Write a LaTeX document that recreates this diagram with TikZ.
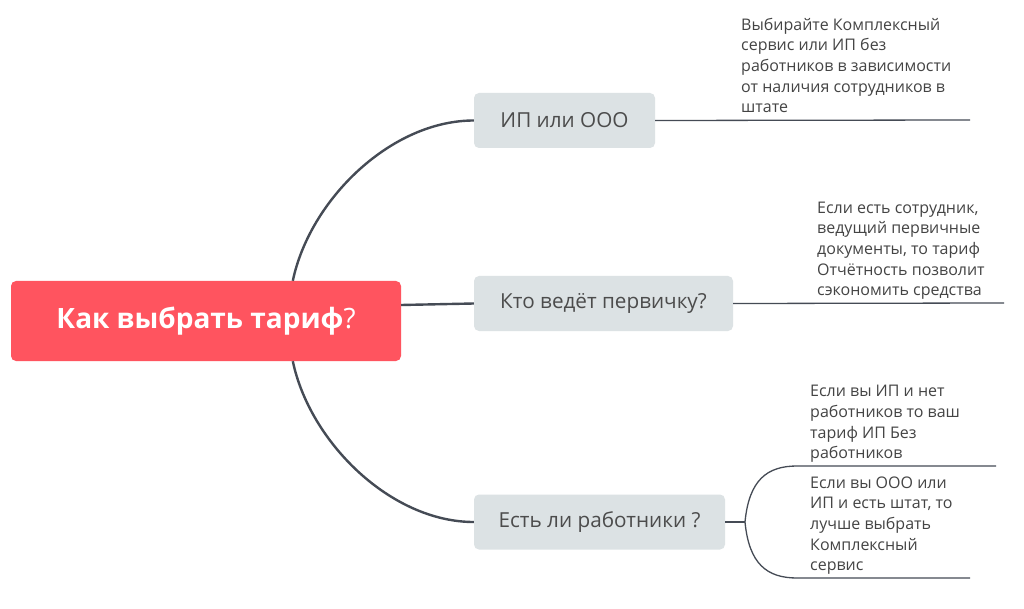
\documentclass[tikz,border=0pt]{standalone}
\usepackage{fontspec}
\setmainfont{Open Sans}
\usetikzlibrary{calc}
\definecolor{mainred}{HTML}{FF545F}
\definecolor{boxgray}{HTML}{DCE2E4}
\definecolor{linegray}{HTML}{454B55}
\definecolor{boxtext}{HTML}{4C4C4C}
\definecolor{notetext}{HTML}{444444}
\tikzset{
  rootbox/.style={fill=mainred, rounded corners=5pt, minimum width=390pt, minimum height=80pt, inner sep=0pt, text=white, font=\fontsize{28}{34}\selectfont},
  topicbox/.style={fill=boxgray, rounded corners=5pt, minimum height=55pt, inner sep=0pt, text=boxtext, font=\fontsize{20.7}{24}\selectfont},
  note/.style={anchor=south west, inner sep=0pt, align=left, text=notetext, font=\fontsize{16}{20.6}\selectfont},
  trunk/.style={draw=linegray, line width=2.4pt},
  twig/.style={draw=linegray, line width=1.3pt},
}
\begin{document}
\begin{tikzpicture}[x=1pt, y=-1pt]
\useasboundingbox[fill=white] (0,0) rectangle (1024,609);
% root
\node[rootbox] (main) at (206,321) {\textbf{Как выбрать тариф}?};
% topics
\node[topicbox, minimum width=181pt] (n1) at (564.5,120.5) {ИП или ООО};
\node[topicbox, minimum width=259pt] (n2) at (603.5,303.5) {Кто ведёт первичку?};
\node[topicbox, minimum width=251pt] (n3) at (599.5,522) {Есть ли работники ?};
% line ends
\coordinate (e1) at (970,120);
\coordinate (e2) at (1004,303);
\coordinate (j3) at (745,522);
\coordinate (b3a) at (797,466);
\coordinate (e3a) at (996,466);
\coordinate (b3b) at (797,578);
\coordinate (e3b) at (970,578);
% connectors from root
\draw[trunk] ([xshift=282pt]main.north west) .. controls +(17,-81) and +(-83,0) .. (n1.west);
\draw[trunk] ([xshift=282pt]main.south west) .. controls +(17,81) and +(-83,0) .. (n3.west);
\draw[trunk] ([yshift=16pt]main.east) -- (n2.west);
% right lines
\draw[twig] (n1.east) -- (e1);
\draw[twig] (n2.east) -- (e2);
\draw[twig] (n3.east) -- (j3);
\draw[twig] (j3) .. controls +(4,-42) and +(-30,0) .. (b3a) -- (e3a);
\draw[twig] (j3) .. controls +(4,42) and +(-30,0) .. (b3b) -- (e3b);
% notes
\node[note] (t1) at (741,119) {Выбирайте Комплексный\\сервис или ИП без\\работников в зависимости\\от наличия сотрудников в\\штате\strut};
\node[note] (t2) at (817,302) {Если есть сотрудник,\\ведущий первичные\\документы, то тариф\\Отчётность позволит\\сэкономить средства\strut};
\node[note] (t3a) at (810,465) {Если вы ИП и нет\\работников то ваш\\тариф ИП Без\\работников\strut};
\node[note] (t3b) at (810,577) {Если вы ООО или\\ИП и есть штат, то\\лучше выбрать\\Комплексный\\сервис\strut};
\end{tikzpicture}
\end{document}
